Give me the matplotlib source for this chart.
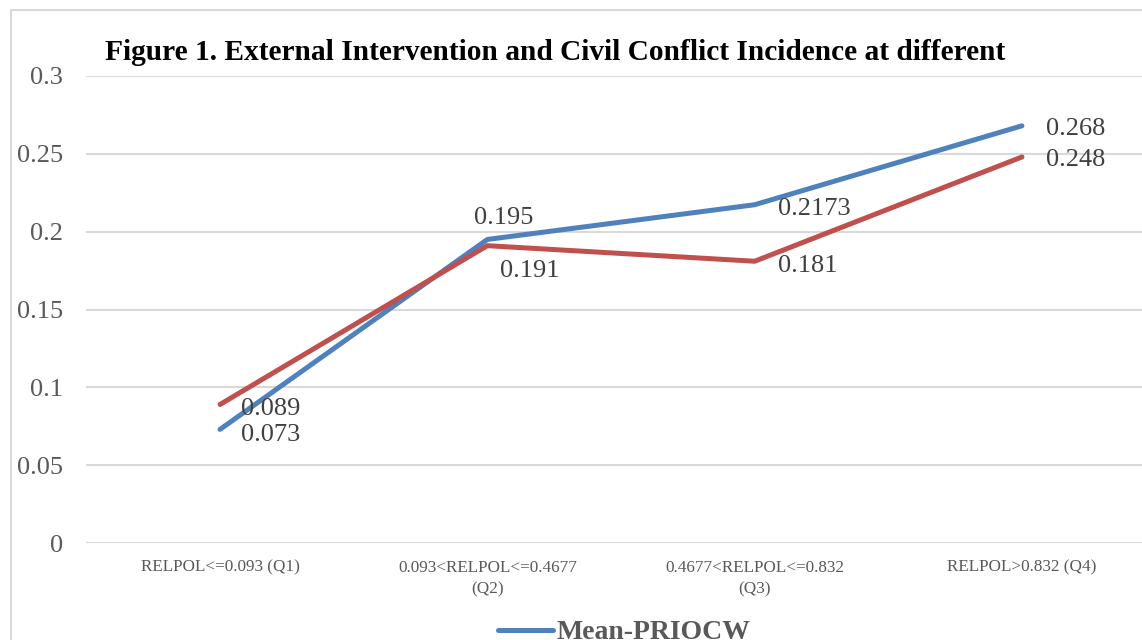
import matplotlib
matplotlib.use("Agg")
import matplotlib.pyplot as plt
from matplotlib.patches import Rectangle

plt.rcParams['font.family'] = ['Liberation Serif', 'DejaVu Serif']

categories = ["RELPOL<=0.093 (Q1)", "0.093<RELPOL<=0.4677\n(Q2)",
              "0.4677<RELPOL<=0.832\n(Q3)", "RELPOL>0.832 (Q4)"]
mean_priocw = [0.073, 0.195, 0.2173, 0.268]
second_series = [0.089, 0.191, 0.181, 0.248]
blue_labels = ["0.073", "0.195", "0.2173", "0.268"]
red_labels = ["0.089", "0.191", "0.181", "0.248"]

BLUE = "#4F81BD"
RED = "#C0504D"
GRID = "#D9D9D9"
TXT = "#595959"

W, H = 1142, 640
fig = plt.figure(figsize=(W / 100, H / 100), dpi=100)
fig.patch.set_facecolor("white")

# chart area border (runs off the right and bottom edges)
fig.patches.append(Rectangle((11 / W, -0.2), 1.2, (640 - 10) / H + 0.2,
                             transform=fig.transFigure, fill=False,
                             edgecolor=GRID, linewidth=1.5))

ax = fig.add_axes([86.4 / W, 97 / H, 1069.2 / W, 467 / H])
x = list(range(len(categories)))

blue_line, = ax.plot(x, mean_priocw, color=BLUE, lw=3.6,
                     solid_capstyle='round', zorder=3, label="Mean-PRIOCW")
ax.plot(x, second_series, color=RED, lw=3.6, solid_capstyle='round', zorder=3)

ax.set_xlim(-0.5, len(categories) - 0.5)
ax.set_ylim(0, 0.3)
ax.set_yticks([0, 0.05, 0.1, 0.15, 0.2, 0.25, 0.3])
ax.set_yticklabels(["0", "0.05", "0.1", "0.15", "0.2", "0.25", "0.3"])
ax.set_xticks(x)
ax.set_xticklabels(categories, fontsize=12.3, color=TXT, linespacing=1.45)
ax.tick_params(axis='y', length=0, pad=17, labelsize=19, labelcolor=TXT)
ax.tick_params(axis='x', length=0, pad=12)
ax.yaxis.grid(True, color=GRID, lw=1.5)
ax.set_axisbelow(True)
for s in ax.spines.values():
    s.set_visible(False)

# data labels
lab = dict(fontsize=19, color="#404040", va='center')
offs_blue = [(21, -6, 'left'), (16, 21, 'center'), (23, -4, 'left'), (24, -3, 'left')]
offs_red = [(21, -5, 'left'), (13, -25, 'left'), (23, -5, 'left'), (24, -3, 'left')]
for i in x:
    dx, dy, ha = offs_blue[i]
    ax.annotate(blue_labels[i], (i, mean_priocw[i]), xytext=(dx, dy),
                textcoords='offset pixels', ha=ha, **lab)
    dx, dy, ha = offs_red[i]
    ax.annotate(red_labels[i], (i, second_series[i]), xytext=(dx, dy),
                textcoords='offset pixels', ha=ha, **lab)

fig.text(105 / W, 1 - 52 / H,
         "Figure 1. External Intervention and Civil Conflict Incidence at different",
         fontsize=21.2, fontweight='bold', color='black', va='center', ha='left')

fig.legend(handles=[blue_line], loc='upper center',
           bbox_to_anchor=(624 / W, 1 - 620 / H), frameon=False,
           handlelength=2.0, handletextpad=0.1, borderpad=0, borderaxespad=0,
           prop={'weight': 'bold', 'size': 20}, labelcolor=TXT)

fig.savefig("out.png", dpi=100)
